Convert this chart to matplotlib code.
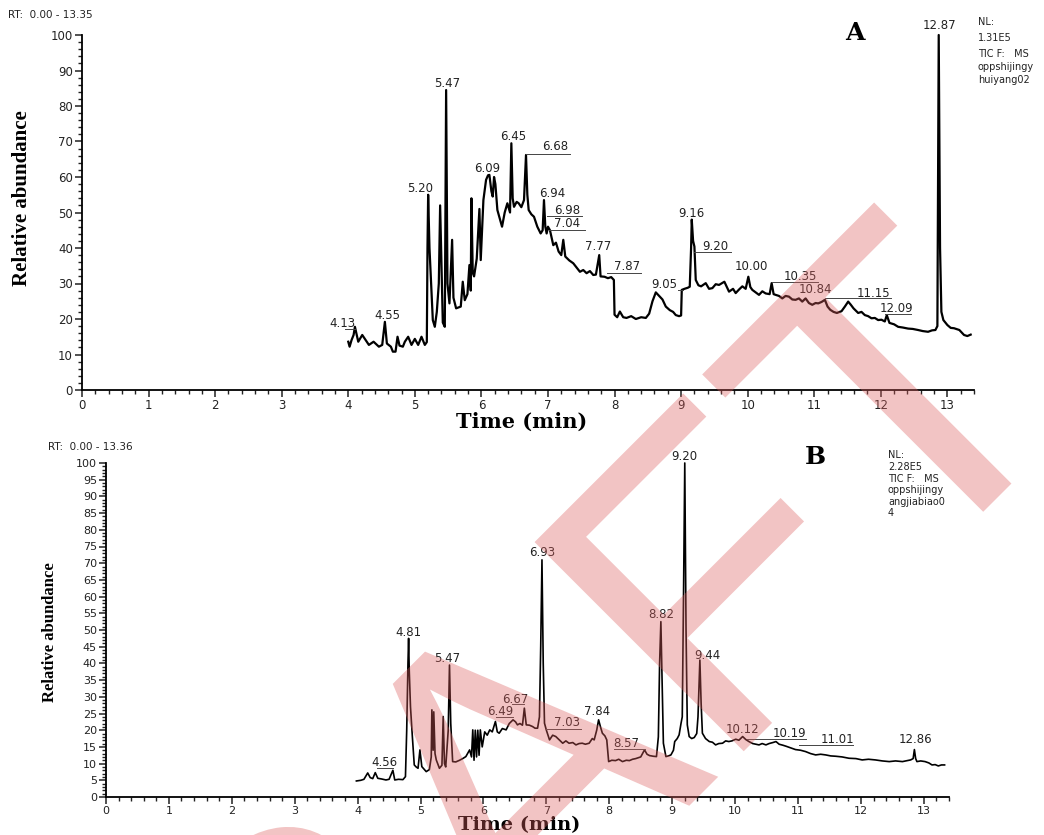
import numpy as np
import matplotlib.pyplot as plt
from matplotlib.ticker import MultipleLocator
from matplotlib.textpath import TextPath, text_to_path
from matplotlib.font_manager import FontProperties
from matplotlib.patches import PathPatch
from matplotlib.transforms import Affine2D

# chromatogram A (time min, relative abundance %)
trace_A = [(4.00,13.6),(4.02,12.2),(4.05,14.1),(4.08,15.5),(4.10,17.8),(4.15,13.6),(4.21,15.5),(4.26,14.1),
           (4.31,12.7),(4.38,13.6),(4.46,12.2),(4.51,12.7),(4.55,19.2),(4.58,13.1),(4.64,12.2),(4.67,10.8),
           (4.71,10.8),(4.74,15.0),(4.77,12.5),(4.82,12.2),(4.85,13.6),(4.90,15.0),(4.95,12.7),(5.00,14.4),
           (5.05,12.7),(5.10,15.0),(5.15,12.7),(5.18,13.5),(5.19,40.0),(5.20,55.0),(5.22,40.0),(5.25,28.0),
           (5.27,19.7),(5.30,17.8),(5.33,22.0),(5.36,30.0),(5.38,52.0),(5.40,35.0),(5.42,19.0),(5.45,17.8),
           (5.47,84.5),(5.49,30.0),(5.52,24.4),(5.56,42.3),(5.58,26.0),(5.62,23.0),(5.69,23.5),(5.72,30.5),
           (5.75,25.3),(5.79,27.0),(5.82,35.2),(5.84,28.0),(5.85,54.0),(5.87,33.0),(5.89,32.0),(5.93,37.0),
           (5.97,51.0),(5.99,36.6),(6.03,53.5),(6.07,59.2),(6.10,60.5),(6.12,60.6),(6.15,56.0),(6.17,54.5),
           (6.19,60.0),(6.21,58.0),(6.24,50.7),(6.28,48.0),(6.31,46.0),(6.35,50.0),(6.39,52.6),(6.43,50.0),
           (6.45,69.5),(6.47,54.0),(6.49,51.6),(6.53,53.0),(6.56,52.6),(6.60,51.5),(6.64,53.5),(6.67,66.2),
           (6.69,55.0),(6.71,50.7),(6.75,49.5),(6.79,48.8),(6.84,46.0),(6.89,44.1),(6.92,45.0),(6.94,53.5),
           (6.96,46.0),(6.98,44.1),(7.00,46.0),(7.03,45.0),(7.08,40.8),(7.12,41.5),(7.16,39.0),(7.20,38.0),
           (7.23,42.3),(7.26,37.6),(7.32,36.5),(7.38,35.7),(7.43,34.5),(7.48,33.3),(7.53,33.8),(7.58,32.9),
           (7.63,33.5),(7.68,32.4),(7.72,32.5),(7.77,38.0),(7.79,32.0),(7.85,31.9),(7.90,31.5),(7.95,31.8),
           (7.99,31.0),(8.00,21.2),(8.04,20.5),(8.08,22.1),(8.13,20.5),(8.18,20.3),(8.25,20.8),(8.32,20.0),
           (8.40,20.5),(8.47,20.3),(8.52,21.5),(8.57,25.0),(8.62,27.5),(8.67,26.5),(8.72,25.5),(8.77,23.5),
           (8.83,22.5),(8.88,22.0),(8.92,21.1),(8.97,20.8),(9.00,21.0),(9.01,28.2),(9.05,28.5),(9.10,28.8),
           (9.13,29.1),(9.15,40.0),(9.16,48.0),(9.18,42.0),(9.20,40.4),(9.22,31.0),(9.26,29.5),(9.30,29.2),
           (9.37,30.1),(9.42,28.5),(9.47,28.7),(9.52,29.8),(9.57,29.6),(9.65,30.5),(9.72,27.7),(9.78,28.5),
           (9.82,27.3),(9.87,28.3),(9.92,29.2),(9.97,28.5),(10.01,31.9),(10.04,29.0),(10.07,28.2),(10.12,27.5),
           (10.17,26.8),(10.22,27.8),(10.27,27.2),(10.33,27.0),(10.36,30.1),(10.39,27.0),(10.42,26.8),(10.47,26.5),
           (10.52,25.8),(10.57,26.5),(10.62,26.3),(10.67,25.5),(10.72,25.4),(10.77,25.8),(10.82,24.9),(10.87,25.8),
           (10.92,24.5),(10.97,24.0),(11.02,24.5),(11.06,24.4),(11.11,24.8),(11.16,25.4),(11.20,23.5),(11.24,22.6),
           (11.29,22.0),(11.34,21.7),(11.41,22.2),(11.46,23.5),(11.51,24.9),(11.55,24.0),(11.59,23.0),(11.66,21.7),
           (11.71,22.0),(11.76,21.1),(11.81,20.8),(11.86,20.2),(11.91,20.3),(11.96,19.7),(12.01,19.8),(12.06,19.3),
           (12.09,21.1),(12.13,18.9),(12.20,18.5),(12.26,17.8),(12.33,17.6),(12.41,17.3),(12.48,17.2),(12.56,16.9),
           (12.63,16.6),(12.71,16.4),(12.77,16.8),(12.82,16.9),(12.85,18.0),(12.87,100.0),(12.89,40.0),(12.91,22.0),
           (12.94,19.7),(13.00,18.3),(13.05,17.5),(13.10,17.4),(13.18,16.9),(13.25,15.5),(13.30,15.2),(13.35,15.6)]

# chromatogram B
trace_B = [(3.98,4.8),(4.05,5.0),(4.10,5.3),(4.16,7.2),(4.20,5.8),(4.24,5.5),(4.28,7.3),(4.32,5.6),
           (4.38,5.4),(4.45,5.1),(4.50,5.3),(4.56,8.0),(4.59,5.1),(4.65,5.3),(4.72,5.2),(4.76,6.1),
           (4.78,20.0),(4.80,40.0),(4.81,47.5),(4.82,38.0),(4.84,27.0),(4.87,18.0),(4.90,9.6),(4.93,9.0),
           (4.96,8.6),(4.99,14.1),(5.02,9.1),(5.09,7.6),(5.14,8.2),(5.17,12.0),(5.18,26.1),(5.20,14.0),
           (5.21,25.5),(5.23,13.0),(5.25,11.1),(5.30,8.6),(5.34,9.5),(5.36,24.1),(5.38,10.0),(5.40,9.0),
           (5.44,20.0),(5.46,39.5),(5.48,22.0),(5.51,10.6),(5.56,10.5),(5.62,11.0),(5.67,11.5),(5.72,12.1),
           (5.78,14.1),(5.81,12.0),(5.83,20.1),(5.85,11.0),(5.87,20.0),(5.89,12.0),(5.91,20.0),(5.93,12.5),
           (5.95,20.1),(5.98,15.0),(6.02,19.5),(6.06,18.5),(6.10,20.1),(6.14,19.5),(6.19,22.6),(6.22,19.5),
           (6.25,19.1),(6.30,20.5),(6.36,20.1),(6.41,22.0),(6.47,23.1),(6.51,22.5),(6.54,21.6),(6.58,22.0),
           (6.62,21.5),(6.65,26.6),(6.68,21.6),(6.73,21.5),(6.78,21.1),(6.82,20.6),(6.86,20.6),(6.89,24.0),
           (6.91,45.0),(6.93,71.0),(6.95,40.0),(6.97,22.1),(7.00,20.0),(7.05,17.1),(7.10,18.5),(7.15,18.1),
           (7.20,17.2),(7.26,16.1),(7.31,16.8),(7.36,16.1),(7.42,16.3),(7.47,15.6),(7.52,16.0),(7.57,16.1),
           (7.62,15.8),(7.68,16.1),(7.73,17.5),(7.76,17.1),(7.80,20.0),(7.83,23.1),(7.86,21.0),(7.89,19.1),
           (7.93,18.3),(7.96,17.1),(7.99,10.6),(8.04,11.0),(8.10,10.9),(8.15,11.3),(8.21,10.6),(8.27,11.0),
           (8.32,10.9),(8.37,11.3),(8.42,11.5),(8.47,11.8),(8.50,12.0),(8.56,14.1),(8.60,12.8),(8.64,12.4),
           (8.70,12.2),(8.75,12.1),(8.78,18.0),(8.80,40.0),(8.82,52.5),(8.84,35.0),(8.86,16.1),(8.90,12.1),
           (8.94,12.3),(8.98,12.6),(9.02,14.0),(9.04,16.6),(9.08,17.5),(9.11,18.6),(9.14,22.0),(9.16,24.0),
           (9.18,60.0),(9.20,100.0),(9.22,50.0),(9.24,21.6),(9.27,18.1),(9.31,17.5),(9.35,17.8),(9.39,19.0),
           (9.41,24.0),(9.43,36.0),(9.44,41.0),(9.46,28.0),(9.48,19.1),(9.53,17.5),(9.59,16.6),(9.64,16.4),
           (9.69,15.6),(9.74,16.0),(9.80,16.1),(9.85,16.8),(9.90,16.6),(9.95,16.8),(10.01,17.3),(10.06,17.0),
           (10.12,18.1),(10.17,17.2),(10.22,16.6),(10.28,16.0),(10.33,15.8),(10.38,15.6),(10.43,16.0),(10.49,15.6),
           (10.54,16.0),(10.60,16.3),(10.65,16.6),(10.70,15.8),(10.76,15.5),(10.81,15.2),(10.87,14.8),(10.92,14.5),
           (10.96,14.2),(11.04,14.0),(11.12,13.6),(11.20,13.0),(11.28,12.6),(11.36,12.8),(11.44,12.6),(11.52,12.3),
           (11.60,12.2),(11.70,12.0),(11.81,11.6),(11.92,11.5),(12.02,11.1),(12.12,11.3),(12.23,11.1),(12.34,10.8),
           (12.45,10.6),(12.55,10.8),(12.66,10.6),(12.74,10.9),(12.79,11.1),(12.83,11.5),(12.85,14.2),(12.87,11.5),
           (12.89,10.6),(12.95,10.8),(13.02,10.6),(13.08,10.2),(13.13,9.6),(13.18,9.7),(13.23,9.3),(13.28,9.6),
           (13.33,9.6)]

# peak labels: text, label centre (t, v), leader line (t0, t1, v) or None
labels_A = [("4.13", 3.91, 18.8, (3.95, 4.10, 17.3)),
            ("4.55", 4.58, 21.1, None),
            ("5.20", 5.08, 56.8, None),
            ("5.47", 5.48, 86.2, None),
            ("6.09", 6.08, 62.4, None),
            ("6.45", 6.47, 71.5, None),
            ("6.68", 7.11, 68.7, (6.67, 7.33, 66.5)),
            ("6.94", 7.07, 55.4, None),
            ("6.98", 7.29, 50.5, (6.98, 7.51, 49.0)),
            ("7.04", 7.29, 46.8, (7.01, 7.56, 45.2)),
            ("7.77", 7.76, 40.4, None),
            ("7.87", 8.19, 34.7, (7.88, 8.40, 33.0)),
            ("9.05", 8.75, 29.6, (8.95, 9.03, 28.1)),
            ("9.16", 9.15, 49.8, None),
            ("9.20", 9.52, 40.4, (9.20, 9.75, 38.9)),
            ("10.00", 10.05, 34.7, None),
            ("10.35", 10.79, 31.9, (10.36, 11.06, 30.3)),
            ("10.84", 11.02, 28.2, None),
            ("11.15", 11.89, 27.3, (11.16, 12.16, 26.0)),
            ("12.09", 12.23, 23.0, (12.06, 12.46, 21.4)),
            ("12.87", 12.88, 102.8, None)]

labels_B = [("4.56", 4.43, 10.3, (4.30, 4.56, 8.7)),
            ("4.81", 4.81, 49.2, None),
            ("5.47", 5.43, 41.5, None),
            ("6.49", 6.26, 25.5, (6.20, 6.47, 24.0)),
            ("6.67", 6.51, 29.3, (6.45, 6.65, 27.7)),
            ("6.93", 6.94, 73.1, None),
            ("7.03", 7.32, 22.2, (7.00, 7.55, 20.5)),
            ("7.84", 7.81, 25.7, None),
            ("8.57", 8.27, 16.1, (8.08, 8.56, 14.4)),
            ("8.82", 8.82, 54.5, None),
            ("9.20", 9.19, 101.9, None),
            ("9.44", 9.56, 42.5, None),
            ("10.12", 10.12, 20.1, None),
            ("10.19", 10.86, 19.1, (10.19, 11.12, 17.4)),
            ("11.01", 11.62, 17.1, (11.01, 11.87, 15.6)),
            ("12.86", 12.86, 17.1, None)]

info_A = ["NL:", "1.31E5", "TIC F:   MS", "oppshijingy", "huiyang02"]
info_B = ["NL:", "2.28E5", "TIC F:   MS", "oppshijingy", "angjiabiao0", "4"]

W, H = 1044, 835
fig = plt.figure(figsize=(W / 100, H / 100), dpi=100)


def px(x, y):
    return x / W, 1 - y / H


def make_axes(left, top, right, bottom, ymajor, yminor, ylab_size):
    ax = fig.add_axes([left / W, 1 - bottom / H, (right - left) / W, (bottom - top) / H])
    ax.set_xlim(0, 13.4)
    ax.set_ylim(0, 100)
    for s in ['top', 'right']:
        ax.spines[s].set_visible(False)
    for s in ['left', 'bottom']:
        ax.spines[s].set_linewidth(1.3)
    ax.xaxis.set_major_locator(MultipleLocator(1))
    ax.xaxis.set_minor_locator(MultipleLocator(0.2))
    ax.yaxis.set_major_locator(MultipleLocator(ymajor))
    ax.yaxis.set_minor_locator(MultipleLocator(yminor))
    ax.tick_params(which='major', length=5, width=1.1, labelsize=ylab_size, colors='#222', pad=1.5)
    ax.tick_params(which='minor', length=3, width=1.0, colors='#222')
    ax.set_facecolor('none')
    return ax


def draw(ax, trace, labels, lw):
    t, v = zip(*trace)
    ax.plot(np.array(t), np.array(v), color='black', lw=lw, clip_on=False)
    for txt, x, y, lead in labels:
        ax.text(x, y, txt, ha='center', va='center', fontsize=8.5, color='#222',
                family='DejaVu Sans', clip_on=False)
        if lead is not None:
            ax.plot([lead[0], lead[1]], [lead[2], lead[2]], color='#444', lw=0.7, clip_on=False)


axA = make_axes(82, 35, 974, 390, 10, 2, 8.5)
draw(axA, trace_A, labels_A, 1.6)

axB = make_axes(106, 463, 949, 797, 5, 1, 8)
draw(axB, trace_B, labels_B, 1.2)

# texts around the panels
fig.text(*px(8, 15), "RT:  0.00 - 13.35", fontsize=7.5, color='#222', va='center')
fig.text(*px(48, 447), "RT:  0.00 - 13.36", fontsize=7.5, color='#222', va='center')

fig.text(*px(855, 33), "A", fontsize=18, fontweight='bold', family='DejaVu Serif', ha='center', va='center')
fig.text(*px(815, 457), "B", fontsize=18, fontweight='bold', family='DejaVu Serif', ha='center', va='center')

ys_A = [22, 38, 54, 67, 80]
for s, y in zip(info_A, ys_A):
    fig.text(*px(978, y), s, fontsize=7, color='#222', va='center')
ys_B = [455, 467, 479, 490, 502, 513]
for s, y in zip(info_B, ys_B):
    fig.text(*px(888, y), s, fontsize=7, color='#222', va='center')

fig.text(*px(22, 198), "Relative abundance", rotation=90, fontsize=15, fontweight='bold',
         family='Liberation Serif', ha='center', va='center')
fig.text(*px(50, 632), "Relative abundance", rotation=90, fontsize=12, fontweight='bold',
         family='Liberation Serif', ha='center', va='center')
fig.text(*px(522, 422), "Time (min)", fontsize=15, fontweight='bold',
         family='DejaVu Serif', ha='center', va='center')
fig.text(*px(519, 825), "Time (min)", fontsize=14, fontweight='bold',
         family='DejaVu Serif', ha='center', va='center')

# watermark "DRAFT" across the figure
wm_prop = FontProperties(family='Liberation Sans')
em = 430
dr_w = text_to_path.get_text_width_height_descent("DR", wm_prop, ismath=False)[0] * em / wm_prop.get_size_in_points()
wm_tr = Affine2D().rotate_deg(45).translate(516, H - 979)
for s, x0 in [("DR", -dr_w), ("AFT", 0)]:
    path = TextPath((x0, 0), s, size=em, prop=wm_prop)
    fig.add_artist(PathPatch(path, transform=wm_tr, facecolor='#dc5f5f', edgecolor='none',
                             alpha=0.37, zorder=20))

fig.savefig('out.png', dpi=100)
